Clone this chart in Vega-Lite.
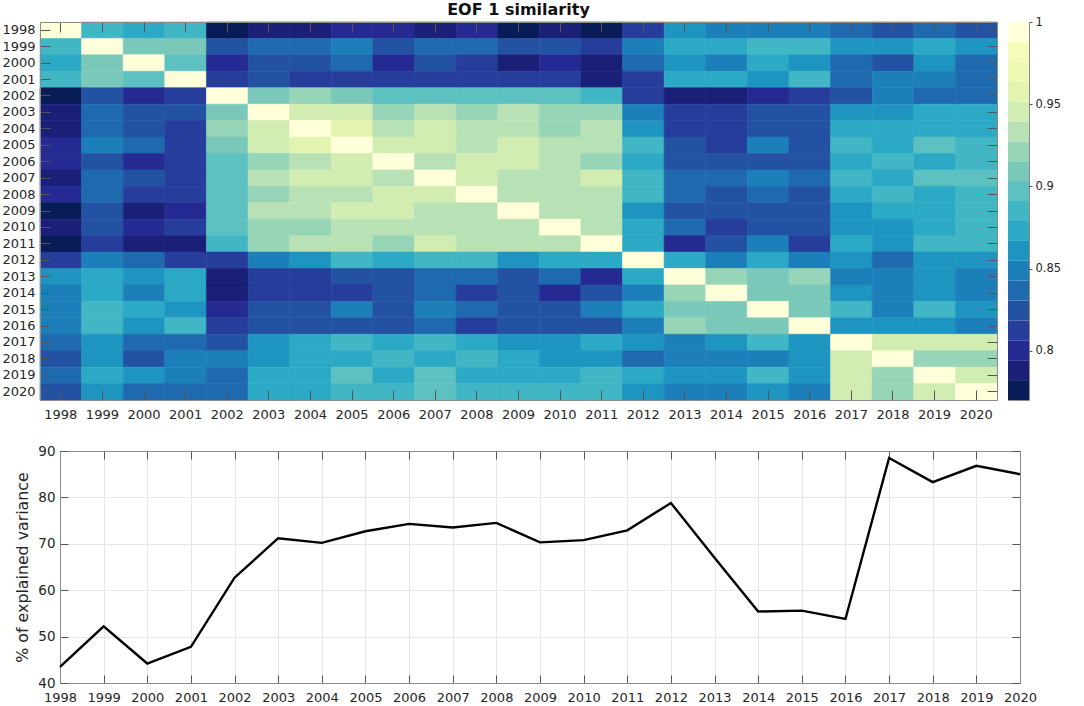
{
  "$schema": "https://vega.github.io/schema/vega-lite/v6.json",
  "background": "white",
  "padding": {"left": 1, "top": 1, "right": 5, "bottom": 2},
  "bounds": "full",
  "align": "none",
  "spacing": 21,
  "config": {
    "font": "DejaVu Sans",
    "view": {"stroke": "#8c8c8c"},
    "axis": {"labelColor": "#262626", "titleColor": "#262626", "domainColor": "#8c8c8c", "tickColor": "#555555", "labelFlush": false, "labelOverlap": false}
  },
  "vconcat": [
    {
      "bounds": "flush",
      "spacing": 11,
      "hconcat": [
        {
          "width": 957,
          "height": 378,
          "title": {"text": "EOF 1 similarity", "fontSize": 16, "fontWeight": "bold", "color": "#111111", "offset": 4, "anchor": "middle"},
          "data": {"values": [
            {"x":1998,"y":1998,"v":1},{"x":1999,"y":1998,"v":0.885},{"x":2000,"y":1998,"v":0.873},{"x":2001,"y":1998,"v":0.885},{"x":2002,"y":1998,"v":0.776},{"x":2003,"y":1998,"v":0.788},{"x":2004,"y":1998,"v":0.788},{"x":2005,"y":1998,"v":0.8},{"x":2006,"y":1998,"v":0.8},{"x":2007,"y":1998,"v":0.788},{"x":2008,"y":1998,"v":0.8},{"x":2009,"y":1998,"v":0.776},{"x":2010,"y":1998,"v":0.788},{"x":2011,"y":1998,"v":0.776},{"x":2012,"y":1998,"v":0.812},{"x":2013,"y":1998,"v":0.861},{"x":2014,"y":1998,"v":0.849},{"x":2015,"y":1998,"v":0.849},{"x":2016,"y":1998,"v":0.849},{"x":2017,"y":1998,"v":0.837},{"x":2018,"y":1998,"v":0.824},{"x":2019,"y":1998,"v":0.837},{"x":2020,"y":1998,"v":0.824},
            {"x":1998,"y":1999,"v":0.885},{"x":1999,"y":1999,"v":1},{"x":2000,"y":1999,"v":0.909},{"x":2001,"y":1999,"v":0.909},{"x":2002,"y":1999,"v":0.824},{"x":2003,"y":1999,"v":0.837},{"x":2004,"y":1999,"v":0.837},{"x":2005,"y":1999,"v":0.849},{"x":2006,"y":1999,"v":0.824},{"x":2007,"y":1999,"v":0.837},{"x":2008,"y":1999,"v":0.837},{"x":2009,"y":1999,"v":0.824},{"x":2010,"y":1999,"v":0.824},{"x":2011,"y":1999,"v":0.812},{"x":2012,"y":1999,"v":0.849},{"x":2013,"y":1999,"v":0.873},{"x":2014,"y":1999,"v":0.873},{"x":2015,"y":1999,"v":0.885},{"x":2016,"y":1999,"v":0.885},{"x":2017,"y":1999,"v":0.861},{"x":2018,"y":1999,"v":0.861},{"x":2019,"y":1999,"v":0.873},{"x":2020,"y":1999,"v":0.861},
            {"x":1998,"y":2000,"v":0.873},{"x":1999,"y":2000,"v":0.909},{"x":2000,"y":2000,"v":1},{"x":2001,"y":2000,"v":0.897},{"x":2002,"y":2000,"v":0.8},{"x":2003,"y":2000,"v":0.824},{"x":2004,"y":2000,"v":0.824},{"x":2005,"y":2000,"v":0.837},{"x":2006,"y":2000,"v":0.8},{"x":2007,"y":2000,"v":0.824},{"x":2008,"y":2000,"v":0.812},{"x":2009,"y":2000,"v":0.788},{"x":2010,"y":2000,"v":0.8},{"x":2011,"y":2000,"v":0.788},{"x":2012,"y":2000,"v":0.837},{"x":2013,"y":2000,"v":0.861},{"x":2014,"y":2000,"v":0.849},{"x":2015,"y":2000,"v":0.873},{"x":2016,"y":2000,"v":0.861},{"x":2017,"y":2000,"v":0.837},{"x":2018,"y":2000,"v":0.824},{"x":2019,"y":2000,"v":0.861},{"x":2020,"y":2000,"v":0.837},
            {"x":1998,"y":2001,"v":0.885},{"x":1999,"y":2001,"v":0.909},{"x":2000,"y":2001,"v":0.897},{"x":2001,"y":2001,"v":1},{"x":2002,"y":2001,"v":0.812},{"x":2003,"y":2001,"v":0.824},{"x":2004,"y":2001,"v":0.812},{"x":2005,"y":2001,"v":0.812},{"x":2006,"y":2001,"v":0.812},{"x":2007,"y":2001,"v":0.812},{"x":2008,"y":2001,"v":0.812},{"x":2009,"y":2001,"v":0.812},{"x":2010,"y":2001,"v":0.812},{"x":2011,"y":2001,"v":0.788},{"x":2012,"y":2001,"v":0.812},{"x":2013,"y":2001,"v":0.873},{"x":2014,"y":2001,"v":0.873},{"x":2015,"y":2001,"v":0.861},{"x":2016,"y":2001,"v":0.885},{"x":2017,"y":2001,"v":0.837},{"x":2018,"y":2001,"v":0.849},{"x":2019,"y":2001,"v":0.849},{"x":2020,"y":2001,"v":0.837},
            {"x":1998,"y":2002,"v":0.776},{"x":1999,"y":2002,"v":0.824},{"x":2000,"y":2002,"v":0.8},{"x":2001,"y":2002,"v":0.812},{"x":2002,"y":2002,"v":1},{"x":2003,"y":2002,"v":0.909},{"x":2004,"y":2002,"v":0.921},{"x":2005,"y":2002,"v":0.909},{"x":2006,"y":2002,"v":0.897},{"x":2007,"y":2002,"v":0.897},{"x":2008,"y":2002,"v":0.897},{"x":2009,"y":2002,"v":0.897},{"x":2010,"y":2002,"v":0.897},{"x":2011,"y":2002,"v":0.885},{"x":2012,"y":2002,"v":0.812},{"x":2013,"y":2002,"v":0.788},{"x":2014,"y":2002,"v":0.788},{"x":2015,"y":2002,"v":0.8},{"x":2016,"y":2002,"v":0.812},{"x":2017,"y":2002,"v":0.824},{"x":2018,"y":2002,"v":0.849},{"x":2019,"y":2002,"v":0.837},{"x":2020,"y":2002,"v":0.837},
            {"x":1998,"y":2003,"v":0.788},{"x":1999,"y":2003,"v":0.837},{"x":2000,"y":2003,"v":0.824},{"x":2001,"y":2003,"v":0.824},{"x":2002,"y":2003,"v":0.909},{"x":2003,"y":2003,"v":1},{"x":2004,"y":2003,"v":0.945},{"x":2005,"y":2003,"v":0.945},{"x":2006,"y":2003,"v":0.921},{"x":2007,"y":2003,"v":0.933},{"x":2008,"y":2003,"v":0.921},{"x":2009,"y":2003,"v":0.933},{"x":2010,"y":2003,"v":0.921},{"x":2011,"y":2003,"v":0.921},{"x":2012,"y":2003,"v":0.849},{"x":2013,"y":2003,"v":0.812},{"x":2014,"y":2003,"v":0.812},{"x":2015,"y":2003,"v":0.824},{"x":2016,"y":2003,"v":0.824},{"x":2017,"y":2003,"v":0.861},{"x":2018,"y":2003,"v":0.861},{"x":2019,"y":2003,"v":0.873},{"x":2020,"y":2003,"v":0.873},
            {"x":1998,"y":2004,"v":0.788},{"x":1999,"y":2004,"v":0.837},{"x":2000,"y":2004,"v":0.824},{"x":2001,"y":2004,"v":0.812},{"x":2002,"y":2004,"v":0.921},{"x":2003,"y":2004,"v":0.945},{"x":2004,"y":2004,"v":1},{"x":2005,"y":2004,"v":0.958},{"x":2006,"y":2004,"v":0.933},{"x":2007,"y":2004,"v":0.945},{"x":2008,"y":2004,"v":0.933},{"x":2009,"y":2004,"v":0.933},{"x":2010,"y":2004,"v":0.921},{"x":2011,"y":2004,"v":0.933},{"x":2012,"y":2004,"v":0.861},{"x":2013,"y":2004,"v":0.812},{"x":2014,"y":2004,"v":0.812},{"x":2015,"y":2004,"v":0.824},{"x":2016,"y":2004,"v":0.824},{"x":2017,"y":2004,"v":0.873},{"x":2018,"y":2004,"v":0.873},{"x":2019,"y":2004,"v":0.873},{"x":2020,"y":2004,"v":0.873},
            {"x":1998,"y":2005,"v":0.8},{"x":1999,"y":2005,"v":0.849},{"x":2000,"y":2005,"v":0.837},{"x":2001,"y":2005,"v":0.812},{"x":2002,"y":2005,"v":0.909},{"x":2003,"y":2005,"v":0.945},{"x":2004,"y":2005,"v":0.958},{"x":2005,"y":2005,"v":1},{"x":2006,"y":2005,"v":0.945},{"x":2007,"y":2005,"v":0.945},{"x":2008,"y":2005,"v":0.933},{"x":2009,"y":2005,"v":0.945},{"x":2010,"y":2005,"v":0.933},{"x":2011,"y":2005,"v":0.933},{"x":2012,"y":2005,"v":0.885},{"x":2013,"y":2005,"v":0.824},{"x":2014,"y":2005,"v":0.812},{"x":2015,"y":2005,"v":0.849},{"x":2016,"y":2005,"v":0.824},{"x":2017,"y":2005,"v":0.885},{"x":2018,"y":2005,"v":0.873},{"x":2019,"y":2005,"v":0.897},{"x":2020,"y":2005,"v":0.885},
            {"x":1998,"y":2006,"v":0.8},{"x":1999,"y":2006,"v":0.824},{"x":2000,"y":2006,"v":0.8},{"x":2001,"y":2006,"v":0.812},{"x":2002,"y":2006,"v":0.897},{"x":2003,"y":2006,"v":0.921},{"x":2004,"y":2006,"v":0.933},{"x":2005,"y":2006,"v":0.945},{"x":2006,"y":2006,"v":1},{"x":2007,"y":2006,"v":0.933},{"x":2008,"y":2006,"v":0.945},{"x":2009,"y":2006,"v":0.945},{"x":2010,"y":2006,"v":0.933},{"x":2011,"y":2006,"v":0.921},{"x":2012,"y":2006,"v":0.873},{"x":2013,"y":2006,"v":0.824},{"x":2014,"y":2006,"v":0.824},{"x":2015,"y":2006,"v":0.824},{"x":2016,"y":2006,"v":0.824},{"x":2017,"y":2006,"v":0.873},{"x":2018,"y":2006,"v":0.885},{"x":2019,"y":2006,"v":0.873},{"x":2020,"y":2006,"v":0.885},
            {"x":1998,"y":2007,"v":0.788},{"x":1999,"y":2007,"v":0.837},{"x":2000,"y":2007,"v":0.824},{"x":2001,"y":2007,"v":0.812},{"x":2002,"y":2007,"v":0.897},{"x":2003,"y":2007,"v":0.933},{"x":2004,"y":2007,"v":0.945},{"x":2005,"y":2007,"v":0.945},{"x":2006,"y":2007,"v":0.933},{"x":2007,"y":2007,"v":1},{"x":2008,"y":2007,"v":0.945},{"x":2009,"y":2007,"v":0.933},{"x":2010,"y":2007,"v":0.933},{"x":2011,"y":2007,"v":0.945},{"x":2012,"y":2007,"v":0.885},{"x":2013,"y":2007,"v":0.837},{"x":2014,"y":2007,"v":0.837},{"x":2015,"y":2007,"v":0.849},{"x":2016,"y":2007,"v":0.837},{"x":2017,"y":2007,"v":0.885},{"x":2018,"y":2007,"v":0.873},{"x":2019,"y":2007,"v":0.897},{"x":2020,"y":2007,"v":0.897},
            {"x":1998,"y":2008,"v":0.8},{"x":1999,"y":2008,"v":0.837},{"x":2000,"y":2008,"v":0.812},{"x":2001,"y":2008,"v":0.812},{"x":2002,"y":2008,"v":0.897},{"x":2003,"y":2008,"v":0.921},{"x":2004,"y":2008,"v":0.933},{"x":2005,"y":2008,"v":0.933},{"x":2006,"y":2008,"v":0.945},{"x":2007,"y":2008,"v":0.945},{"x":2008,"y":2008,"v":1},{"x":2009,"y":2008,"v":0.933},{"x":2010,"y":2008,"v":0.933},{"x":2011,"y":2008,"v":0.933},{"x":2012,"y":2008,"v":0.885},{"x":2013,"y":2008,"v":0.837},{"x":2014,"y":2008,"v":0.824},{"x":2015,"y":2008,"v":0.837},{"x":2016,"y":2008,"v":0.824},{"x":2017,"y":2008,"v":0.873},{"x":2018,"y":2008,"v":0.885},{"x":2019,"y":2008,"v":0.873},{"x":2020,"y":2008,"v":0.885},
            {"x":1998,"y":2009,"v":0.776},{"x":1999,"y":2009,"v":0.824},{"x":2000,"y":2009,"v":0.788},{"x":2001,"y":2009,"v":0.8},{"x":2002,"y":2009,"v":0.897},{"x":2003,"y":2009,"v":0.933},{"x":2004,"y":2009,"v":0.933},{"x":2005,"y":2009,"v":0.945},{"x":2006,"y":2009,"v":0.945},{"x":2007,"y":2009,"v":0.933},{"x":2008,"y":2009,"v":0.933},{"x":2009,"y":2009,"v":1},{"x":2010,"y":2009,"v":0.933},{"x":2011,"y":2009,"v":0.933},{"x":2012,"y":2009,"v":0.861},{"x":2013,"y":2009,"v":0.824},{"x":2014,"y":2009,"v":0.824},{"x":2015,"y":2009,"v":0.824},{"x":2016,"y":2009,"v":0.824},{"x":2017,"y":2009,"v":0.861},{"x":2018,"y":2009,"v":0.873},{"x":2019,"y":2009,"v":0.873},{"x":2020,"y":2009,"v":0.885},
            {"x":1998,"y":2010,"v":0.788},{"x":1999,"y":2010,"v":0.824},{"x":2000,"y":2010,"v":0.8},{"x":2001,"y":2010,"v":0.812},{"x":2002,"y":2010,"v":0.897},{"x":2003,"y":2010,"v":0.921},{"x":2004,"y":2010,"v":0.921},{"x":2005,"y":2010,"v":0.933},{"x":2006,"y":2010,"v":0.933},{"x":2007,"y":2010,"v":0.933},{"x":2008,"y":2010,"v":0.933},{"x":2009,"y":2010,"v":0.933},{"x":2010,"y":2010,"v":1},{"x":2011,"y":2010,"v":0.933},{"x":2012,"y":2010,"v":0.873},{"x":2013,"y":2010,"v":0.837},{"x":2014,"y":2010,"v":0.812},{"x":2015,"y":2010,"v":0.824},{"x":2016,"y":2010,"v":0.824},{"x":2017,"y":2010,"v":0.861},{"x":2018,"y":2010,"v":0.861},{"x":2019,"y":2010,"v":0.873},{"x":2020,"y":2010,"v":0.885},
            {"x":1998,"y":2011,"v":0.776},{"x":1999,"y":2011,"v":0.812},{"x":2000,"y":2011,"v":0.788},{"x":2001,"y":2011,"v":0.788},{"x":2002,"y":2011,"v":0.885},{"x":2003,"y":2011,"v":0.921},{"x":2004,"y":2011,"v":0.933},{"x":2005,"y":2011,"v":0.933},{"x":2006,"y":2011,"v":0.921},{"x":2007,"y":2011,"v":0.945},{"x":2008,"y":2011,"v":0.933},{"x":2009,"y":2011,"v":0.933},{"x":2010,"y":2011,"v":0.933},{"x":2011,"y":2011,"v":1},{"x":2012,"y":2011,"v":0.873},{"x":2013,"y":2011,"v":0.8},{"x":2014,"y":2011,"v":0.824},{"x":2015,"y":2011,"v":0.849},{"x":2016,"y":2011,"v":0.812},{"x":2017,"y":2011,"v":0.873},{"x":2018,"y":2011,"v":0.861},{"x":2019,"y":2011,"v":0.885},{"x":2020,"y":2011,"v":0.885},
            {"x":1998,"y":2012,"v":0.812},{"x":1999,"y":2012,"v":0.849},{"x":2000,"y":2012,"v":0.837},{"x":2001,"y":2012,"v":0.812},{"x":2002,"y":2012,"v":0.812},{"x":2003,"y":2012,"v":0.849},{"x":2004,"y":2012,"v":0.861},{"x":2005,"y":2012,"v":0.885},{"x":2006,"y":2012,"v":0.873},{"x":2007,"y":2012,"v":0.885},{"x":2008,"y":2012,"v":0.885},{"x":2009,"y":2012,"v":0.861},{"x":2010,"y":2012,"v":0.873},{"x":2011,"y":2012,"v":0.873},{"x":2012,"y":2012,"v":1},{"x":2013,"y":2012,"v":0.873},{"x":2014,"y":2012,"v":0.849},{"x":2015,"y":2012,"v":0.873},{"x":2016,"y":2012,"v":0.849},{"x":2017,"y":2012,"v":0.855},{"x":2018,"y":2012,"v":0.837},{"x":2019,"y":2012,"v":0.861},{"x":2020,"y":2012,"v":0.861},
            {"x":1998,"y":2013,"v":0.861},{"x":1999,"y":2013,"v":0.873},{"x":2000,"y":2013,"v":0.861},{"x":2001,"y":2013,"v":0.873},{"x":2002,"y":2013,"v":0.788},{"x":2003,"y":2013,"v":0.812},{"x":2004,"y":2013,"v":0.812},{"x":2005,"y":2013,"v":0.824},{"x":2006,"y":2013,"v":0.824},{"x":2007,"y":2013,"v":0.837},{"x":2008,"y":2013,"v":0.837},{"x":2009,"y":2013,"v":0.824},{"x":2010,"y":2013,"v":0.837},{"x":2011,"y":2013,"v":0.8},{"x":2012,"y":2013,"v":0.873},{"x":2013,"y":2013,"v":1},{"x":2014,"y":2013,"v":0.921},{"x":2015,"y":2013,"v":0.909},{"x":2016,"y":2013,"v":0.921},{"x":2017,"y":2013,"v":0.849},{"x":2018,"y":2013,"v":0.849},{"x":2019,"y":2013,"v":0.861},{"x":2020,"y":2013,"v":0.849},
            {"x":1998,"y":2014,"v":0.849},{"x":1999,"y":2014,"v":0.873},{"x":2000,"y":2014,"v":0.849},{"x":2001,"y":2014,"v":0.873},{"x":2002,"y":2014,"v":0.788},{"x":2003,"y":2014,"v":0.812},{"x":2004,"y":2014,"v":0.812},{"x":2005,"y":2014,"v":0.812},{"x":2006,"y":2014,"v":0.824},{"x":2007,"y":2014,"v":0.837},{"x":2008,"y":2014,"v":0.812},{"x":2009,"y":2014,"v":0.824},{"x":2010,"y":2014,"v":0.8},{"x":2011,"y":2014,"v":0.824},{"x":2012,"y":2014,"v":0.849},{"x":2013,"y":2014,"v":0.921},{"x":2014,"y":2014,"v":1},{"x":2015,"y":2014,"v":0.909},{"x":2016,"y":2014,"v":0.909},{"x":2017,"y":2014,"v":0.861},{"x":2018,"y":2014,"v":0.849},{"x":2019,"y":2014,"v":0.861},{"x":2020,"y":2014,"v":0.849},
            {"x":1998,"y":2015,"v":0.849},{"x":1999,"y":2015,"v":0.885},{"x":2000,"y":2015,"v":0.873},{"x":2001,"y":2015,"v":0.861},{"x":2002,"y":2015,"v":0.8},{"x":2003,"y":2015,"v":0.824},{"x":2004,"y":2015,"v":0.824},{"x":2005,"y":2015,"v":0.849},{"x":2006,"y":2015,"v":0.824},{"x":2007,"y":2015,"v":0.849},{"x":2008,"y":2015,"v":0.837},{"x":2009,"y":2015,"v":0.824},{"x":2010,"y":2015,"v":0.824},{"x":2011,"y":2015,"v":0.849},{"x":2012,"y":2015,"v":0.873},{"x":2013,"y":2015,"v":0.909},{"x":2014,"y":2015,"v":0.909},{"x":2015,"y":2015,"v":1},{"x":2016,"y":2015,"v":0.909},{"x":2017,"y":2015,"v":0.885},{"x":2018,"y":2015,"v":0.849},{"x":2019,"y":2015,"v":0.885},{"x":2020,"y":2015,"v":0.861},
            {"x":1998,"y":2016,"v":0.849},{"x":1999,"y":2016,"v":0.885},{"x":2000,"y":2016,"v":0.861},{"x":2001,"y":2016,"v":0.885},{"x":2002,"y":2016,"v":0.812},{"x":2003,"y":2016,"v":0.824},{"x":2004,"y":2016,"v":0.824},{"x":2005,"y":2016,"v":0.824},{"x":2006,"y":2016,"v":0.824},{"x":2007,"y":2016,"v":0.837},{"x":2008,"y":2016,"v":0.818},{"x":2009,"y":2016,"v":0.824},{"x":2010,"y":2016,"v":0.824},{"x":2011,"y":2016,"v":0.824},{"x":2012,"y":2016,"v":0.849},{"x":2013,"y":2016,"v":0.921},{"x":2014,"y":2016,"v":0.909},{"x":2015,"y":2016,"v":0.909},{"x":2016,"y":2016,"v":1},{"x":2017,"y":2016,"v":0.861},{"x":2018,"y":2016,"v":0.861},{"x":2019,"y":2016,"v":0.861},{"x":2020,"y":2016,"v":0.849},
            {"x":1998,"y":2017,"v":0.837},{"x":1999,"y":2017,"v":0.861},{"x":2000,"y":2017,"v":0.837},{"x":2001,"y":2017,"v":0.837},{"x":2002,"y":2017,"v":0.824},{"x":2003,"y":2017,"v":0.861},{"x":2004,"y":2017,"v":0.873},{"x":2005,"y":2017,"v":0.885},{"x":2006,"y":2017,"v":0.873},{"x":2007,"y":2017,"v":0.885},{"x":2008,"y":2017,"v":0.873},{"x":2009,"y":2017,"v":0.861},{"x":2010,"y":2017,"v":0.861},{"x":2011,"y":2017,"v":0.873},{"x":2012,"y":2017,"v":0.861},{"x":2013,"y":2017,"v":0.849},{"x":2014,"y":2017,"v":0.861},{"x":2015,"y":2017,"v":0.885},{"x":2016,"y":2017,"v":0.861},{"x":2017,"y":2017,"v":1},{"x":2018,"y":2017,"v":0.945},{"x":2019,"y":2017,"v":0.945},{"x":2020,"y":2017,"v":0.945},
            {"x":1998,"y":2018,"v":0.824},{"x":1999,"y":2018,"v":0.861},{"x":2000,"y":2018,"v":0.824},{"x":2001,"y":2018,"v":0.849},{"x":2002,"y":2018,"v":0.849},{"x":2003,"y":2018,"v":0.861},{"x":2004,"y":2018,"v":0.873},{"x":2005,"y":2018,"v":0.873},{"x":2006,"y":2018,"v":0.885},{"x":2007,"y":2018,"v":0.873},{"x":2008,"y":2018,"v":0.885},{"x":2009,"y":2018,"v":0.873},{"x":2010,"y":2018,"v":0.861},{"x":2011,"y":2018,"v":0.861},{"x":2012,"y":2018,"v":0.837},{"x":2013,"y":2018,"v":0.849},{"x":2014,"y":2018,"v":0.849},{"x":2015,"y":2018,"v":0.849},{"x":2016,"y":2018,"v":0.861},{"x":2017,"y":2018,"v":0.945},{"x":2018,"y":2018,"v":1},{"x":2019,"y":2018,"v":0.921},{"x":2020,"y":2018,"v":0.921},
            {"x":1998,"y":2019,"v":0.837},{"x":1999,"y":2019,"v":0.873},{"x":2000,"y":2019,"v":0.861},{"x":2001,"y":2019,"v":0.849},{"x":2002,"y":2019,"v":0.837},{"x":2003,"y":2019,"v":0.873},{"x":2004,"y":2019,"v":0.873},{"x":2005,"y":2019,"v":0.897},{"x":2006,"y":2019,"v":0.873},{"x":2007,"y":2019,"v":0.897},{"x":2008,"y":2019,"v":0.873},{"x":2009,"y":2019,"v":0.873},{"x":2010,"y":2019,"v":0.873},{"x":2011,"y":2019,"v":0.885},{"x":2012,"y":2019,"v":0.873},{"x":2013,"y":2019,"v":0.861},{"x":2014,"y":2019,"v":0.861},{"x":2015,"y":2019,"v":0.885},{"x":2016,"y":2019,"v":0.861},{"x":2017,"y":2019,"v":0.945},{"x":2018,"y":2019,"v":0.921},{"x":2019,"y":2019,"v":1},{"x":2020,"y":2019,"v":0.945},
            {"x":1998,"y":2020,"v":0.824},{"x":1999,"y":2020,"v":0.861},{"x":2000,"y":2020,"v":0.837},{"x":2001,"y":2020,"v":0.837},{"x":2002,"y":2020,"v":0.837},{"x":2003,"y":2020,"v":0.873},{"x":2004,"y":2020,"v":0.873},{"x":2005,"y":2020,"v":0.885},{"x":2006,"y":2020,"v":0.885},{"x":2007,"y":2020,"v":0.897},{"x":2008,"y":2020,"v":0.885},{"x":2009,"y":2020,"v":0.885},{"x":2010,"y":2020,"v":0.885},{"x":2011,"y":2020,"v":0.885},{"x":2012,"y":2020,"v":0.861},{"x":2013,"y":2020,"v":0.849},{"x":2014,"y":2020,"v":0.849},{"x":2015,"y":2020,"v":0.861},{"x":2016,"y":2020,"v":0.849},{"x":2017,"y":2020,"v":0.945},{"x":2018,"y":2020,"v":0.921},{"x":2019,"y":2020,"v":0.945},{"x":2020,"y":2020,"v":1}
          ]},
          "encoding": {
            "x": {"field": "x", "type": "ordinal", "scale": {"paddingInner": 0, "paddingOuter": 0}},
            "y": {"field": "y", "type": "ordinal", "scale": {"paddingInner": 0, "paddingOuter": 0}}
          },
          "layer": [
            {
              "mark": {"type": "rect", "strokeWidth": 0.6},
              "encoding": {
                "x": {"field": "x", "type": "ordinal", "axis": {"title": null, "labelAngle": 0, "labelFontSize": 13, "tickSize": -10, "labelPadding": 18, "domain": true}},
                "y": {"field": "y", "type": "ordinal", "axis": {"title": null, "labelFontSize": 13, "tickSize": -10, "labelPadding": 15, "domain": true}},
                "color": {
                  "field": "v",
                  "type": "quantitative",
                  "legend": null,
                  "scale": {
                    "type": "threshold",
                    "domain": [0.7821, 0.7942, 0.8063, 0.8184, 0.8305, 0.8426, 0.8547, 0.8668, 0.8789, 0.8911, 0.9032, 0.9153, 0.9274, 0.9395, 0.9516, 0.9637, 0.9758, 0.9879],
                    "range": ["#081d58", "#1a1f78", "#252a92", "#263d9c", "#2352a3", "#1f6aae", "#1d7fb9", "#1e95c0", "#2ca9c5", "#41b6c4", "#5cc1c0", "#7ac8b9", "#96d5b7", "#b8e2b5", "#d2edb2", "#e3f4b0", "#edf8b1", "#f6fbb9", "#ffffd9"]
                  }
                },
                "stroke": {
                  "field": "v",
                  "type": "quantitative",
                  "legend": null,
                  "scale": {
                    "type": "threshold",
                    "domain": [0.7821, 0.7942, 0.8063, 0.8184, 0.8305, 0.8426, 0.8547, 0.8668, 0.8789, 0.8911, 0.9032, 0.9153, 0.9274, 0.9395, 0.9516, 0.9637, 0.9758, 0.9879],
                    "range": ["#081d58", "#1a1f78", "#252a92", "#263d9c", "#2352a3", "#1f6aae", "#1d7fb9", "#1e95c0", "#2ca9c5", "#41b6c4", "#5cc1c0", "#7ac8b9", "#96d5b7", "#b8e2b5", "#d2edb2", "#e3f4b0", "#edf8b1", "#f6fbb9", "#ffffd9"]
                  }
                }
              }
            },
            {
              "mark": {"type": "rect", "opacity": 0},
              "encoding": {
                "x": {"field": "x", "type": "ordinal", "axis": {"orient": "top", "title": null, "labels": false, "tickSize": -10}},
                "y": {"field": "y", "type": "ordinal", "axis": {"orient": "right", "title": null, "labels": false, "tickSize": -10}}
              }
            }
          ],
          "resolve": {"axis": {"x": "independent", "y": "independent"}}
        },
        {
          "width": 21,
          "height": 378,
          "data": {"values": [
            {"lo":0.77,"hi":0.7821,"v":0.776},{"lo":0.7821,"hi":0.7942,"v":0.788},{"lo":0.7942,"hi":0.8063,"v":0.8},{"lo":0.8063,"hi":0.8184,"v":0.812},{"lo":0.8184,"hi":0.8305,"v":0.824},{"lo":0.8305,"hi":0.8426,"v":0.837},{"lo":0.8426,"hi":0.8547,"v":0.849},{"lo":0.8547,"hi":0.8668,"v":0.861},{"lo":0.8668,"hi":0.8789,"v":0.873},{"lo":0.8789,"hi":0.8911,"v":0.885},{"lo":0.8911,"hi":0.9032,"v":0.897},{"lo":0.9032,"hi":0.9153,"v":0.909},{"lo":0.9153,"hi":0.9274,"v":0.921},{"lo":0.9274,"hi":0.9395,"v":0.933},{"lo":0.9395,"hi":0.9516,"v":0.945},{"lo":0.9516,"hi":0.9637,"v":0.958},{"lo":0.9637,"hi":0.9758,"v":0.97},{"lo":0.9758,"hi":0.9879,"v":0.982},{"lo":0.9879,"hi":1,"v":1}
          ]},
          "mark": {"type": "rect"},
          "encoding": {
            "y": {"field": "lo", "type": "quantitative", "scale": {"domain": [0.77, 1], "nice": false, "zero": false}, "axis": {"orient": "right", "title": null, "values": [0.8, 0.85, 0.9, 0.95, 1], "format": ".2~f", "grid": false, "labelFontSize": 11.5, "tickSize": 3, "labelPadding": 3, "domain": false}},
            "y2": {"field": "hi"},
            "color": {
              "field": "v",
              "type": "quantitative",
              "legend": null,
              "scale": {
                "type": "threshold",
                "domain": [0.7821, 0.7942, 0.8063, 0.8184, 0.8305, 0.8426, 0.8547, 0.8668, 0.8789, 0.8911, 0.9032, 0.9153, 0.9274, 0.9395, 0.9516, 0.9637, 0.9758, 0.9879],
                "range": ["#081d58", "#1a1f78", "#252a92", "#263d9c", "#2352a3", "#1f6aae", "#1d7fb9", "#1e95c0", "#2ca9c5", "#41b6c4", "#5cc1c0", "#7ac8b9", "#96d5b7", "#b8e2b5", "#d2edb2", "#e3f4b0", "#edf8b1", "#f6fbb9", "#ffffd9"]
              }
            }
          }
        }
      ]
    },
    {
      "bounds": "flush",
      "spacing": 19,
      "hconcat": [
        {
          "width": 1,
          "height": 232,
          "view": {"stroke": null},
          "data": {"values": []},
          "mark": {"type": "text"},
          "encoding": {}
        },
        {
          "width": 960,
          "height": 232,
          "data": {"values": [
            {"year":1998,"pct":43.5},{"year":1999,"pct":52.2},{"year":2000,"pct":44.2},{"year":2001,"pct":47.8},{"year":2002,"pct":62.7},{"year":2003,"pct":71.2},{"year":2004,"pct":70.2},{"year":2005,"pct":72.7},{"year":2006,"pct":74.3},{"year":2007,"pct":73.5},{"year":2008,"pct":74.5},{"year":2009,"pct":70.3},{"year":2010,"pct":70.8},{"year":2011,"pct":72.9},{"year":2012,"pct":78.8},{"year":2013,"pct":67},{"year":2014,"pct":55.4},{"year":2015,"pct":55.6},{"year":2016,"pct":53.8},{"year":2017,"pct":88.5},{"year":2018,"pct":83.3},{"year":2019,"pct":86.8},{"year":2020,"pct":85}
          ]},
          "layer": [
            {
              "mark": {"type": "line", "color": "black", "strokeWidth": 2.4},
              "encoding": {
                "x": {"field": "year", "type": "quantitative", "scale": {"domain": [1998, 2020], "nice": false, "zero": false}, "axis": {"title": null, "values": [1998,1999,2000,2001,2002,2003,2004,2005,2006,2007,2008,2009,2010,2011,2012,2013,2014,2015,2016,2017,2018,2019,2020], "format": "d", "grid": true, "gridColor": "#e6e6e6", "labelFontSize": 13, "tickSize": -8, "labelPadding": 16}},
                "y": {"field": "pct", "type": "quantitative", "scale": {"domain": [40, 90], "nice": false, "zero": false}, "axis": {"title": "% of explained variance", "titleFontSize": 15.8, "titleFontWeight": "normal", "titlePadding": 7, "values": [40,50,60,70,80,90], "grid": true, "gridColor": "#e6e6e6", "labelFontSize": 13.5, "tickSize": -8, "labelPadding": 13}}
              }
            },
            {
              "mark": {"type": "line", "opacity": 0},
              "encoding": {
                "x": {"field": "year", "type": "quantitative", "scale": {"domain": [1998, 2020], "nice": false, "zero": false}, "axis": {"orient": "top", "title": null, "values": [1998,1999,2000,2001,2002,2003,2004,2005,2006,2007,2008,2009,2010,2011,2012,2013,2014,2015,2016,2017,2018,2019,2020], "labels": false, "grid": false, "tickSize": -8}},
                "y": {"field": "pct", "type": "quantitative", "scale": {"domain": [40, 90], "nice": false, "zero": false}, "axis": {"orient": "right", "title": null, "values": [40,50,60,70,80,90], "labels": false, "grid": false, "tickSize": -8}}
              }
            }
          ],
          "resolve": {"axis": {"x": "independent", "y": "independent"}}
        }
      ]
    }
  ]
}
